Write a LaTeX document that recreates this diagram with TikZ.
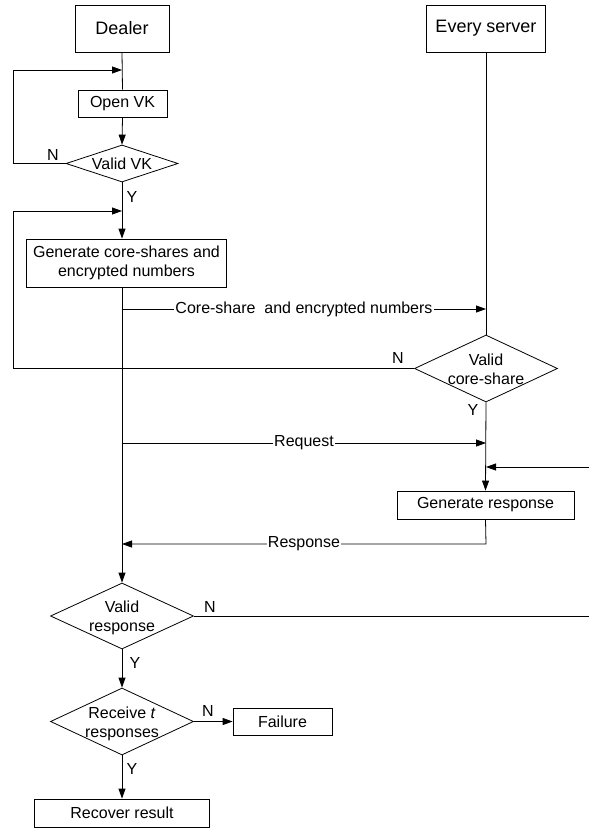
\documentclass[tikz,border=0pt]{standalone}
\usepackage{fontspec}
\setmainfont{Liberation Sans}
\usetikzlibrary{shapes.geometric,arrows.meta}
\newcommand{\dtext}[1]{\raisebox{-7pt}[0pt][0pt]{\makebox[0pt]{\begin{tabular}{@{}c@{}}#1\end{tabular}}}}
\begin{document}
\begin{tikzpicture}[x=1pt,y=-1pt,
  font=\fontsize{16}{19}\selectfont,
  box/.style={draw,rectangle,inner sep=0pt,align=center,line width=0.8pt},
  dec/.style={draw,diamond,inner sep=0pt,line width=0.8pt},
  title/.style={box,minimum height=47pt,font=\fontsize{18}{22}\selectfont},
  line/.style={line width=0.8pt},
  arr/.style={line,-{Triangle[length=10pt,width=7pt]}},
  onlab/.style={fill=white,inner sep=1pt},
  yn/.style={inner sep=0pt}]
\useasboundingbox (0,0) rectangle (589,835);
% nodes
\node[title,minimum width=94pt] (dealer) at (122,28.5) {Dealer};
\node[title,minimum width=119pt] (server) at (486,28.5) {Every server};
\node[box,minimum width=89pt,minimum height=27pt] (openvk) at (122.5,103.5) {Open VK};
\node[dec,minimum width=112pt,minimum height=37pt] (validvk) at (122,163.5) {\dtext{Valid VK}};
\node[box,minimum width=200pt,minimum height=48pt] (gen) at (126.5,263) {Generate core-shares and\\encrypted numbers};
\node[dec,minimum width=143pt,minimum height=67pt] (vcs) at (486,368.5) {\dtext{Valid\\core-share}};
\node[box,minimum width=177pt,minimum height=28pt] (genresp) at (485.5,505) {Generate response};
\node[dec,minimum width=143pt,minimum height=66pt] (vresp) at (122,616) {\dtext{Valid\\response}};
\node[dec,minimum width=143pt,minimum height=67pt] (recv) at (122,721.5) {\dtext{Receive \textit{t}\\responses}};
\node[box,minimum width=99pt,minimum height=27pt] (fail) at (282.5,721.5) {Failure};
\node[box,minimum width=175pt,minimum height=28pt] (recover) at (122,813) {Recover result};
% helper coordinates
\coordinate (j1) at (122,70);
\coordinate (k1) at (13,70);
\coordinate (j2) at (122,211);
\coordinate (k2) at (13,211);
\coordinate (cs) at (122,309);
\coordinate (rq) at (122,443);
\coordinate (re) at (589,467);
\coordinate (rs) at (486,544);
\coordinate (re2) at (589,616);
% dealer column
\draw[line] (dealer.south) -- (openvk.north);
\draw[arr] (validvk.west) -| (k1) -- (j1);
\draw[arr] (openvk.south) -- (validvk.north);
\draw[arr] (validvk.south) -- (validvk.south |- gen.north);
\draw[arr] (vcs.west) -| (k2) -- (j2);
\draw[arr] (validvk.south |- gen.south) -- (vresp.north);
% server column
\draw[line] (server.south) -- (vcs.north);
\draw[arr] (cs) -- node[onlab]{Core-share\ \ and encrypted numbers} (cs -| server.south);
\draw[arr] (rq) -- node[onlab]{Request} (rq -| server.south);
\draw[arr] (vcs.south) -- (genresp.north);
\draw[arr] (re) -- (re -| vcs.south);
\draw[arr] (genresp.south) -- (rs) -- node[onlab]{Response} (rs -| dealer.south);
% lower part
\draw[line] (vresp.east) -- (re2);
\draw[arr] (vresp.south) -- (recv.north);
\draw[arr] (recv.east) -- (fail.west);
\draw[arr] (recv.south) -- (recover.north);
% Y / N labels
\node[yn] (n1) at (53,155) {N};
\node[yn] (y1) at (132,197) {Y};
\node[yn] (n2) at (398,358) {N};
\node[yn] (y2) at (473,410) {Y};
\node[yn] (n3) at (210,607) {N};
\node[yn] (y3) at (135,663) {Y};
\node[yn] (n4) at (208,711) {N};
\node[yn] (y4) at (132,769) {Y};
\end{tikzpicture}
\end{document}
